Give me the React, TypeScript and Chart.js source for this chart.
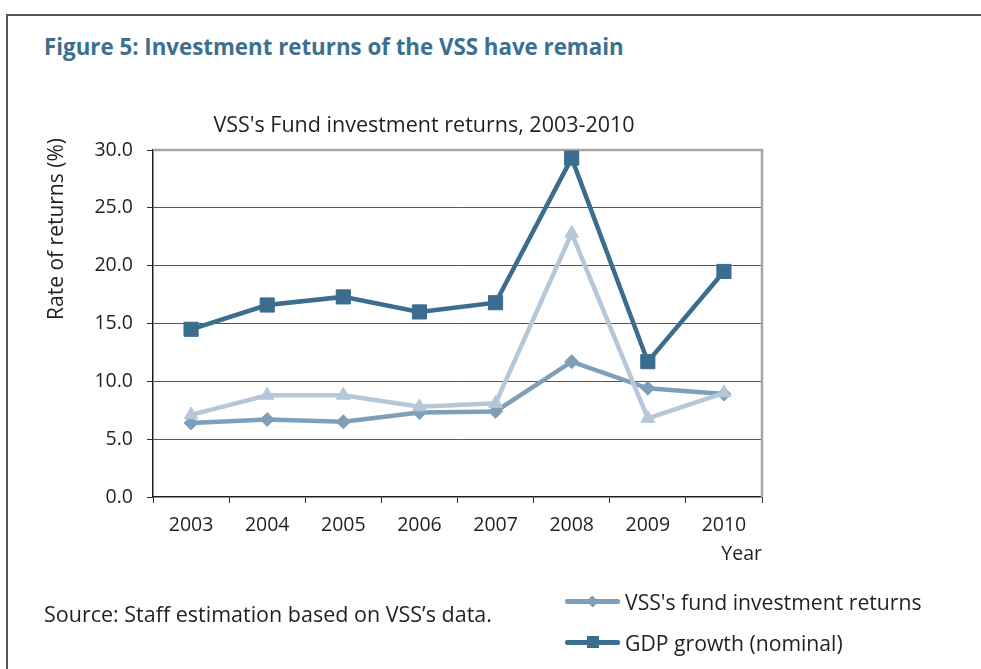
import React, { useEffect, useRef } from "react";
import { Chart, registerables } from "chart.js";

Chart.register(...registerables);

// ---- data ----
const years = ["2003", "2004", "2005", "2006", "2007", "2008", "2009", "2010"];
const fundReturns = [6.4, 6.7, 6.5, 7.3, 7.4, 11.7, 9.4, 8.9];
const gdpGrowth = [14.5, 16.6, 17.3, 16.0, 16.8, 29.3, 11.7, 19.5];
const thirdSeries = [7.1, 8.8, 8.8, 7.8, 8.1, 22.8, 6.8, 9.0];

const yMin = 0;
const yMax = 30;
const yStep = 5;

const figureTitle = "Figure 5: Investment returns of the VSS have remain";
const chartTitle = "VSS's Fund investment returns, 2003-2010";
const yAxisTitle = "Rate of returns (%)";
const xAxisTitle = "Year";
const sourceText = "Source: Staff estimation based on VSS\u2019s data.";
const fundLabel = "VSS's fund investment returns";
const gdpLabel = "GDP growth (nominal)";
const thirdLabel = "Series 3";

// ---- styles ----
const FONT = "'Open Sans', 'Noto Sans', sans-serif";
const TEXT = "#231f20";
const GDP_COLOR = "#3a6d8e";
const FUND_COLOR = "#7e9fba";
const THIRD_COLOR = "#b5c8da";
const TITLE_COLOR = "#3d6f90";

const plotFramePlugin = {
  id: "plotFrame",
  beforeDatasetsDraw(chart: any) {
    const { ctx, chartArea: a } = chart;
    ctx.save();
    ctx.strokeStyle = "#a6a6a6";
    ctx.lineWidth = 2.5;
    ctx.beginPath();
    ctx.moveTo(a.left, a.top);
    ctx.lineTo(a.right, a.top);
    ctx.lineTo(a.right, a.bottom);
    ctx.stroke();
    ctx.restore();
  },
  afterDraw(chart: any) {
    const { ctx, chartArea: a } = chart;
    ctx.save();
    ctx.translate(a.left - 96, a.top + 79);
    ctx.rotate(-Math.PI / 2);
    ctx.fillStyle = TEXT;
    ctx.font = `21px ${FONT}`;
    ctx.textAlign = "center";
    ctx.textBaseline = "middle";
    ctx.fillText(yAxisTitle, 0, 0);
    ctx.restore();
  },
};

function ChartCanvas() {
  const ref = useRef<HTMLCanvasElement | null>(null);
  useEffect(() => {
    if (!ref.current) return;
    const chart = new Chart(ref.current, {
      type: "line",
      data: {
        labels: years,
        datasets: [
          {
            label: thirdLabel,
            data: thirdSeries,
            borderColor: THIRD_COLOR,
            backgroundColor: THIRD_COLOR,
            borderWidth: 4.5,
            pointStyle: "triangle",
            pointRadius: 8,
            pointBorderWidth: 1,
            tension: 0,
            order: 0,
          },
          {
            label: gdpLabel,
            data: gdpGrowth,
            borderColor: GDP_COLOR,
            backgroundColor: GDP_COLOR,
            borderWidth: 4.5,
            pointStyle: "rect",
            pointRadius: 10,
            pointBorderWidth: 1,
            tension: 0,
            order: 1,
          },
          {
            label: fundLabel,
            data: fundReturns,
            borderColor: FUND_COLOR,
            backgroundColor: FUND_COLOR,
            borderWidth: 4.5,
            pointStyle: "rectRot",
            pointRadius: 7,
            pointBorderWidth: 1,
            tension: 0,
            order: 2,
          },
        ],
      },
      options: {
        animation: false,
        responsive: false,
        maintainAspectRatio: false,
        layout: { padding: { left: 30, top: 150, right: 219, bottom: 92 } },
        plugins: {
          legend: { display: false },
          title: { display: false },
          tooltip: { enabled: false },
        },
        scales: {
          x: {
            type: "category",
            offset: true,
            grid: {
              offset: true,
              drawOnChartArea: false,
              drawTicks: true,
              tickLength: 6,
              tickColor: "#333333",
              tickWidth: 1,
            },
            border: { display: true, color: TEXT, width: 1.5 },
            ticks: {
              color: TEXT,
              font: { family: FONT, size: 19.5 },
              padding: 11,
              maxRotation: 0,
            },
            title: {
              display: true,
              text: xAxisTitle,
              align: "end",
              color: TEXT,
              font: { family: FONT, size: 19.5 },
              padding: { top: 0, bottom: 11 },
            },
            afterFit(scale: any) {
              scale.height = 80;
            },
          },
          y: {
            min: yMin,
            max: yMax,
            ticks: {
              stepSize: yStep,
              color: TEXT,
              font: { family: FONT, size: 19.5 },
              padding: 14,
              callback: (v: any) => Number(v).toFixed(1),
            },
            grid: {
              color: (c: any) =>
                c.tick && (c.tick.value === yMin || c.tick.value === yMax)
                  ? "rgba(0,0,0,0)"
                  : "#555555",
              lineWidth: 1,
              borderDash: [1, 1],
              tickLength: 6,
              tickColor: "#333333",
              tickWidth: 1,
            },
            border: { display: true, color: TEXT, width: 1.5 },
            title: { display: false },
            afterFit(scale: any) {
              scale.width = 123;
            },
          },
        },
      },
      plugins: [plotFramePlugin],
    });
    return () => chart.destroy();
  }, []);
  return (
    <canvas
      ref={ref}
      width={981}
      height={669}
      style={{ position: "absolute", left: 0, top: 0, width: 981, height: 669 }}
    />
  );
}

function LegendRow({ color, marker, label, top }: { color: string; marker: "diamond" | "square"; label: string; top: number }) {
  return (
    <div style={{ position: "absolute", left: 565, top: top - 15, height: 30, display: "flex", alignItems: "center" }}>
      <div style={{ position: "relative", width: 55, height: 30 }}>
        <div style={{ position: "absolute", left: 0, top: 13, width: 55, height: 4.5, background: color, borderRadius: 2 }} />
        {marker === "diamond" ? (
          <div style={{ position: "absolute", left: 23, top: 10.5, width: 9, height: 9, background: color, transform: "rotate(45deg) scaleY(0.9)" }} />
        ) : (
          <div style={{ position: "absolute", left: 21.5, top: 9, width: 12, height: 12, background: color }} />
        )}
      </div>
      <span style={{ marginLeft: 5, fontFamily: FONT, fontSize: 21.2, color: TEXT, whiteSpace: "nowrap" }}>{label}</span>
    </div>
  );
}

export default function App() {
  return (
    <div style={{ position: "absolute", left: 0, top: 0, width: 981, height: 669, overflow: "hidden", background: "#fff" }}>
      <div style={{ position: "absolute", left: 6, top: 14, width: 1000, height: 700, borderLeft: "2px solid #555", borderTop: "2px solid #555" }} />
      <div style={{ position: "absolute", left: 44, top: 30.6, fontFamily: FONT, fontWeight: 700, fontSize: 22.3, color: TITLE_COLOR, whiteSpace: "nowrap" }}>
        {figureTitle}
      </div>
      <ChartCanvas />
      <div style={{ position: "absolute", left: 174, width: 500, top: 109.2, textAlign: "center", fontFamily: FONT, fontSize: 21.5, color: TEXT, whiteSpace: "nowrap" }}>
        {chartTitle}
      </div>
      <div style={{ position: "absolute", left: 44, top: 598.7, fontFamily: FONT, fontSize: 21.5, color: TEXT, whiteSpace: "nowrap" }}>
        {sourceText}
      </div>
      <LegendRow color={FUND_COLOR} marker="diamond" label={fundLabel} top={601} />
      <LegendRow color={GDP_COLOR} marker="square" label={gdpLabel} top={642} />
    </div>
  );
}
